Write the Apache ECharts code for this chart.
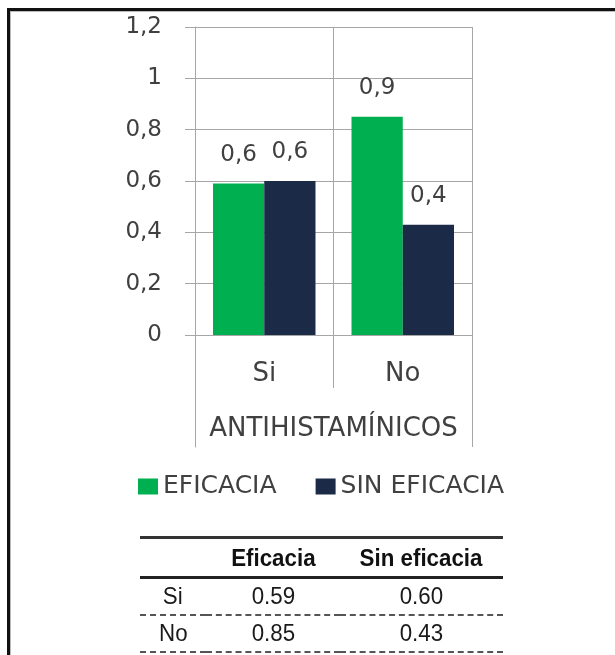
<!DOCTYPE html>
<html>
<head>
<meta charset="utf-8">
<script src="https://cdn.jsdelivr.net/npm/echarts@6/dist/echarts.min.js"></script>
<style>
  html, body { margin: 0; background: #fff; overflow: hidden; }
  #marco {
    position: absolute; left: 7px; top: 8px; width: 700px; height: 700px;
    border-top: 3px solid #111; border-left: 3px solid #111;
    box-shadow: inset 1px 1px 0 #bbb;
  }
  #chart { position: absolute; left: 0; top: 0; width: 615px; height: 655px; }
  #tabla {
    position: absolute; left: 140px; top: 536px; width: 363px;
    border-collapse: collapse;
    font-family: 'Liberation Sans', Arial, sans-serif;
    font-size: 24px; color: #1a1a1a;
  }
  #tabla th, #tabla td { padding: 0; text-align: center; }
  #tabla span { display: inline-block; transform: scaleX(0.93); }
  #tabla thead tr { height: 40px; border-top: 3px solid #333; border-bottom: 3px solid #222; }
  #tabla tbody tr { height: 37px; border-bottom: 2px dashed #555; }
  #tabla th { font-weight: bold; color: #111; }
</style>
</head>
<body>
<div id="marco"></div>
<div id="chart"></div>
<table id="tabla"></table>
<script>
  // datos del gráfico
  const categorias = ['Si', 'No']
  const grupo = 'ANTIHISTAMÍNICOS'
  const nombresSeries = ['EFICACIA', 'SIN EFICACIA']
  const eficacia = [0.59, 0.85]
  const sinEficacia = [0.60, 0.43]
  const encabezados = ['Eficacia', 'Sin eficacia']

  const fuente = 'DejaVu Sans'
  const gris = '#404040'
  const lineaGris = '#a6a6a6'

  // márgenes de la zona de trazado
  const ancho = 615
  const gLeft = 195, gRight = 143, gTop = 27, ejeY = 335, finGrupo = 447

  const coma = v => String(v).replace('.', ',')
  const etiqueta = p => (Math.round(p.value * 10) / 10).toFixed(1).replace('.', ',')

  const chart = echarts.init(document.getElementById('chart'))
  const option = {
    animation: false,
    grid: [
      { left: gLeft, right: gRight, top: gTop, bottom: 655 - ejeY },
      // franja del nivel de grupo bajo el eje
      { left: gLeft, right: gRight, top: ejeY, bottom: 655 - finGrupo }
    ],
    legend: {
      left: 138, top: 474, padding: 0,
      icon: 'rect', itemWidth: 20, itemHeight: 16, itemGap: 39,
      textStyle: { fontFamily: fuente, fontSize: 25, color: gris },
      data: nombresSeries
    },
    xAxis: [
      {
        type: 'category',
        data: categorias,
        axisLine: { lineStyle: { color: lineaGris } },
        axisTick: { show: true, length: 53, lineStyle: { color: lineaGris } },
        axisLabel: { margin: 26, fontFamily: fuente, fontSize: 26, color: gris },
        splitLine: { show: true, lineStyle: { color: lineaGris } }
      },
      {
        // título del grupo
        type: 'category',
        position: 'bottom',
        data: [grupo],
        axisLine: { show: false },
        axisTick: { show: false },
        axisLabel: { margin: 81, fontFamily: fuente, fontSize: 26, color: gris }
      },
      {
        type: 'category',
        gridIndex: 1,
        data: [grupo],
        show: false
      }
    ],
    yAxis: [
      {
        type: 'value',
        min: 0, max: 1.2, interval: 0.2,
        axisLine: { show: true, lineStyle: { color: lineaGris } },
        axisTick: { show: true, length: 10, lineStyle: { color: lineaGris } },
        axisLabel: { margin: 33, fontFamily: fuente, fontSize: 23, color: gris, formatter: coma },
        splitLine: { lineStyle: { color: lineaGris } }
      },
      {
        // borde izquierdo del nivel de grupo
        type: 'value', gridIndex: 1, position: 'left',
        axisLine: { show: true, onZero: false, lineStyle: { color: lineaGris } },
        axisTick: { show: false }, axisLabel: { show: false }, splitLine: { show: false }
      }
    ],
    // borde derecho del nivel de grupo
    graphic: [{
      type: 'line', z: 100, silent: true,
      shape: { x1: ancho - gRight + 0.5, y1: ejeY, x2: ancho - gRight + 0.5, y2: finGrupo },
      style: { stroke: lineaGris, lineWidth: 1 }
    }],
    series: [
      {
        name: nombresSeries[0], type: 'bar', data: eficacia,
        barGap: '0%', barCategoryGap: '26%',
        itemStyle: { color: '#00b050' },
        label: { show: true, position: 'top', distance: 17, fontFamily: fuente, fontSize: 23, color: gris, formatter: etiqueta }
      },
      {
        name: nombresSeries[1], type: 'bar', data: sinEficacia,
        itemStyle: { color: '#1b2a47' },
        label: { show: true, position: 'top', distance: 17, fontFamily: fuente, fontSize: 23, color: gris, formatter: etiqueta }
      }
    ]
  }
  chart.setOption(option)

  // tabla de valores
  const fmt = v => '<span>' + v.toFixed(2) + '</span>'
  let html = '<thead><tr><th></th>' + encabezados.map(h => '<th><span>' + h + '</span></th>').join('') + '</tr></thead><tbody>'
  categorias.forEach((c, i) => {
    html += '<tr><td style="width:66px"><span>' + c + '</span></td><td style="width:134px">' + fmt(eficacia[i]) + '</td><td>' + fmt(sinEficacia[i]) + '</td></tr>'
  })
  html += '</tbody>'
  document.getElementById('tabla').innerHTML = html
</script>
</body>
</html>
